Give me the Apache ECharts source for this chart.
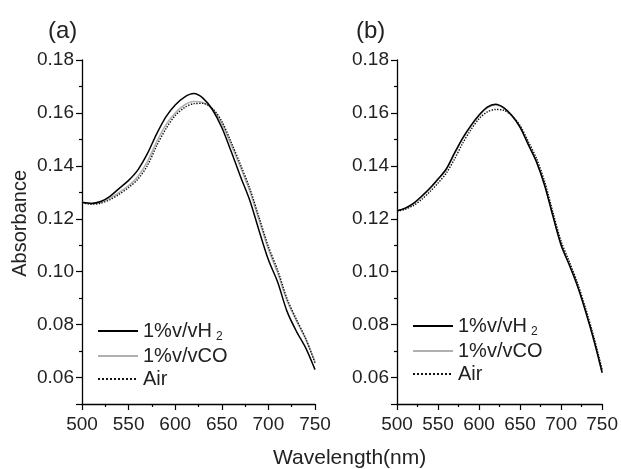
<!DOCTYPE html>
<html>
<head>
<meta charset="utf-8">
<script src="https://cdn.jsdelivr.net/npm/echarts@6/dist/echarts.min.js"></script>
<style>
html, body { margin: 0; padding: 0; background: #fff; }
#chart { width: 621px; height: 469px; }
</style>
</head>
<body>
<div id="chart"></div>
<script>
var wavelength = [500, 510, 520, 530, 540, 550, 560, 570, 580, 590, 600, 610, 620, 630, 640, 650, 660, 670, 680, 690, 700, 710, 720, 730, 740, 750];

// panel (a)
var aH2 = [0.1262, 0.1258, 0.1265, 0.1285, 0.1315, 0.1345, 0.1385, 0.1445, 0.1520, 0.1585, 0.1630, 0.1660, 0.1673, 0.1655, 0.1612, 0.1545, 0.1455, 0.1360, 0.1270, 0.1155, 0.1045, 0.0960, 0.0850, 0.0775, 0.0712, 0.0630];
var aCO = [0.1262, 0.1258, 0.1262, 0.1278, 0.1300, 0.1325, 0.1360, 0.1415, 0.1490, 0.1555, 0.1600, 0.1630, 0.1643, 0.1638, 0.1615, 0.1560, 0.1480, 0.1395, 0.1305, 0.1195, 0.1085, 0.0995, 0.0890, 0.0815, 0.0745, 0.0660];
var aAir = [0.1260, 0.1255, 0.1259, 0.1272, 0.1293, 0.1318, 0.1350, 0.1400, 0.1475, 0.1540, 0.1590, 0.1620, 0.1635, 0.1636, 0.1617, 0.1568, 0.1490, 0.1405, 0.1315, 0.1205, 0.1095, 0.1005, 0.0898, 0.0820, 0.0748, 0.0655];

// panel (b)
var bH2 = [0.1230, 0.1240, 0.1258, 0.1285, 0.1315, 0.1350, 0.1388, 0.1448, 0.1505, 0.1552, 0.1592, 0.1622, 0.1633, 0.1620, 0.1590, 0.1545, 0.1480, 0.1415, 0.1325, 0.1210, 0.1100, 0.1025, 0.0945, 0.0848, 0.0740, 0.0618];
var bCO = [0.1230, 0.1239, 0.1256, 0.1283, 0.1313, 0.1348, 0.1386, 0.1445, 0.1502, 0.1549, 0.1589, 0.1619, 0.1630, 0.1618, 0.1589, 0.1546, 0.1482, 0.1417, 0.1328, 0.1213, 0.1103, 0.1028, 0.0948, 0.0850, 0.0742, 0.0620];
var bAir = [0.1228, 0.1236, 0.1250, 0.1273, 0.1302, 0.1335, 0.1372, 0.1425, 0.1485, 0.1536, 0.1578, 0.1604, 0.1613, 0.1610, 0.1590, 0.1552, 0.1492, 0.1428, 0.1340, 0.1225, 0.1115, 0.1038, 0.0957, 0.0860, 0.0752, 0.0630];

var names = ['1%v/vH2', '1%v/vCO', 'Air'];

function pairs(ys) {
    var out = [];
    for (var i = 0; i < wavelength.length; i++) {
        out.push([wavelength[i], ys[i]]);
    }
    return out;
}

var font = 'Liberation Sans, Arial, sans-serif';

function xAxis(idx) {
    return {
        gridIndex: idx, type: 'value', min: 500, max: 750, interval: 50,
        axisLine: { lineStyle: { color: '#000', width: 1.3 } },
        axisTick: { length: 6, lineStyle: { color: '#000', width: 1.2 } },
        minorTick: { show: true, splitNumber: 2, length: 3, lineStyle: { color: '#000', width: 1.2 } },
        axisLabel: { color: '#222', fontSize: 19, fontFamily: font, margin: 11 },
        splitLine: { show: false }
    };
}

function yAxis(idx) {
    return {
        gridIndex: idx, type: 'value', min: 0.05, max: 0.18, splitNumber: 6,
        axisLine: { show: true, lineStyle: { color: '#000', width: 1.3 } },
        axisTick: { show: true, length: 6, lineStyle: { color: '#000', width: 1.2 } },
        minorTick: { show: true, splitNumber: 2, length: 3, lineStyle: { color: '#000', width: 1.2 } },
        axisLabel: {
            color: '#222', fontSize: 19, fontFamily: font, margin: 8, showMinLabel: false,
            formatter: function (v) { return v.toFixed(2); }
        },
        splitLine: { show: false }
    };
}

function line(name, idx, data, color, type, width) {
    return {
        name: name, type: 'line', xAxisIndex: idx, yAxisIndex: idx,
        data: pairs(data), showSymbol: false, symbol: 'none', smooth: 0.3,
        lineStyle: { color: color, type: type, width: width },
        itemStyle: { color: color },
        z: type === 'dotted' ? 3 : (color === '#000' ? 4 : 2)
    };
}

function legend(left, top) {
    return {
        orient: 'vertical', left: left, top: top, padding: 0,
        itemWidth: 40, itemHeight: 8, itemGap: 3,
        data: names, selectedMode: false,
        itemStyle: { opacity: 0 },
        formatter: function (n) { return n === '1%v/vH2' ? '1%v/vH{sub|2}' : n; },
        textStyle: {
            color: '#222', fontSize: 20, fontFamily: font,
            rich: { sub: { fontSize: 12, fontFamily: font, color: '#222', padding: [12, 0, 0, 4] } }
        }
    };
}

var chart = echarts.init(document.getElementById('chart'));
chart.setOption({
    backgroundColor: '#fff',
    animation: false,
    title: [
        { text: '(a)', left: 43, top: 14, textStyle: { fontSize: 24, fontWeight: 'normal', color: '#222', fontFamily: font } },
        { text: '(b)', left: 351, top: 14, textStyle: { fontSize: 24, fontWeight: 'normal', color: '#222', fontFamily: font } }
    ],
    grid: [
        { left: 82, right: 306, top: 60, bottom: 65 },
        { left: 397, right: 17, top: 60, bottom: 65 }
    ],
    legend: [legend(97, 321), legend(412, 316)],
    xAxis: [xAxis(0), xAxis(1)],
    yAxis: [yAxis(0), yAxis(1)],
    series: [
        line(names[0], 0, aH2, '#000', 'solid', 1.5),
        line(names[1], 0, aCO, '#b0b0b0', 'solid', 1.6),
        line(names[2], 0, aAir, '#111', 'dotted', 1.4),
        line(names[0], 1, bH2, '#000', 'solid', 1.5),
        line(names[1], 1, bCO, '#b0b0b0', 'solid', 1.6),
        line(names[2], 1, bAir, '#111', 'dotted', 1.4)
    ],
    graphic: [
        { type: 'text', left: 10, top: 170, rotation: Math.PI / 2,
          style: { text: 'Absorbance', fontSize: 20, fontFamily: font, fill: '#222' } },
        { type: 'text', left: 273, top: 448,
          style: { text: 'Wavelength(nm)', fontSize: 21, fontFamily: font, fill: '#222' } }
    ]
});
</script>
</body>
</html>
